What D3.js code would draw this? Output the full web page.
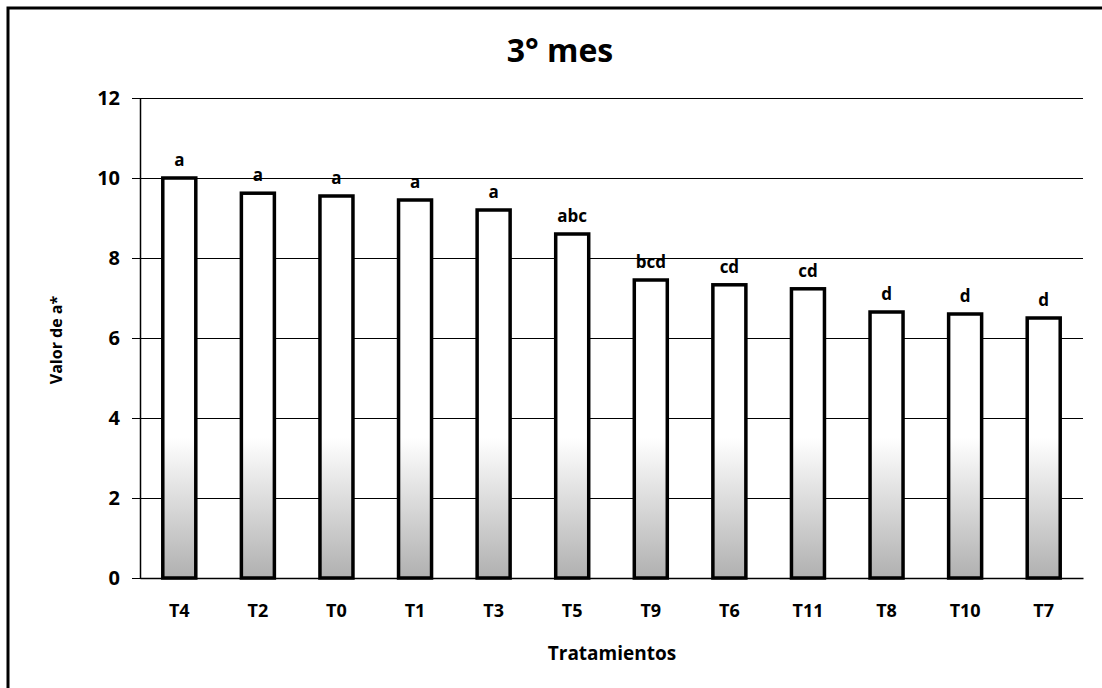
<!DOCTYPE html>
<html>
<head>
<meta charset="utf-8">
<script src="https://cdn.jsdelivr.net/npm/d3@7"></script>
<style>
  body { margin: 0; background: #fff; }
  text { font-family: "Open Sans", Lato, sans-serif; fill: #000; }
</style>
</head>
<body>
<div id="chart"></div>
<script>
// Valor de a* por tratamiento, 3° mes
const categories = ["T4", "T2", "T0", "T1", "T3", "T5", "T9", "T6", "T11", "T8", "T10", "T7"];
const values = [10.0, 9.62, 9.55, 9.45, 9.2, 8.6, 7.45, 7.33, 7.23, 6.65, 6.6, 6.5];
const groups = ["a", "a", "a", "a", "a", "abc", "bcd", "cd", "cd", "d", "d", "d"];
const yTicks = [0, 2, 4, 6, 8, 10, 12];

const width = 1102, height = 688;
const margin = { top: 98, right: 19, bottom: 110, left: 140 };
const font = "'Open Sans', Lato, sans-serif";

const svg = d3.select("#chart").append("svg")
    .attr("width", width)
    .attr("height", height);

// outer frame (runs off the right and bottom edges like the scan)
svg.append("rect")
    .attr("x", 8).attr("y", 8)
    .attr("width", width).attr("height", height)
    .attr("fill", "none")
    .attr("stroke", "#000")
    .attr("stroke-width", 3);

const x = d3.scaleBand()
    .domain(categories)
    .range([margin.left, width - margin.right])
    .paddingInner(0.58)
    .paddingOuter(0.29);

const y = d3.scaleLinear()
    .domain([0, 12])
    .range([height - margin.bottom, margin.top]);

// gradient: white top, grey towards the base
const defs = svg.append("defs");
const grad = defs.append("linearGradient")
    .attr("id", "barFill")
    .attr("gradientUnits", "userSpaceOnUse")
    .attr("x1", 0).attr("x2", 0)
    .attr("y1", y(3.5)).attr("y2", y(0));
grad.append("stop").attr("offset", "0%").attr("stop-color", "#fff");
grad.append("stop").attr("offset", "100%").attr("stop-color", "#b0b0b0");

// gridlines with outside ticks
const yAxis = d3.axisLeft(y)
    .tickValues(yTicks)
    .tickSize(-(width - margin.right - margin.left))
    .tickPadding(20)
    .tickSizeOuter(0);

const gy = svg.append("g")
    .attr("transform", `translate(${margin.left},0)`)
    .call(yAxis);
gy.select(".domain").attr("stroke", "#000").attr("stroke-width", 1.5);
gy.selectAll(".tick line")
    .attr("x1", -8)
    .attr("stroke", "#000")
    .attr("stroke-width", 1.2);
gy.selectAll(".tick text")
    .attr("font-size", 20)
    .attr("font-weight", "bold")
    .attr("font-family", font);

// bars
svg.append("g").selectAll("rect")
    .data(categories)
    .join("rect")
    .attr("x", d => x(d))
    .attr("y", (d, i) => y(values[i]))
    .attr("width", x.bandwidth())
    .attr("height", (d, i) => y(0) - y(values[i]))
    .attr("fill", "url(#barFill)")
    .attr("stroke", "#000")
    .attr("stroke-width", 3.5);

// significance letters
svg.append("g").selectAll("text")
    .data(categories)
    .join("text")
    .attr("x", d => x(d) + x.bandwidth() / 2)
    .attr("y", (d, i) => y(values[i]) - 12)
    .attr("text-anchor", "middle")
    .attr("font-size", 17)
    .attr("font-weight", "bold")
    .text((d, i) => groups[i]);

// x axis labels
const gx = svg.append("g")
    .attr("transform", `translate(0,${y(0)})`)
    .call(d3.axisBottom(x).tickSize(0).tickPadding(26));
gx.select(".domain").attr("stroke", "#000").attr("stroke-width", 1.5);
gx.selectAll(".tick text")
    .attr("font-size", 18)
    .attr("font-weight", "bold")
    .attr("font-family", font);

// titles
svg.append("text")
    .attr("x", 560).attr("y", 62)
    .attr("text-anchor", "middle")
    .attr("font-size", 32)
    .attr("font-weight", "bold")
    .text("3° mes");

svg.append("text")
    .attr("x", 612).attr("y", 660)
    .attr("text-anchor", "middle")
    .attr("font-size", 19)
    .attr("font-weight", "bold")
    .text("Tratamientos");

svg.append("text")
    .attr("transform", "translate(62,340) rotate(-90)")
    .attr("text-anchor", "middle")
    .attr("font-size", 16)
    .attr("font-weight", "bold")
    .text("Valor de a*");
</script>
</body>
</html>
